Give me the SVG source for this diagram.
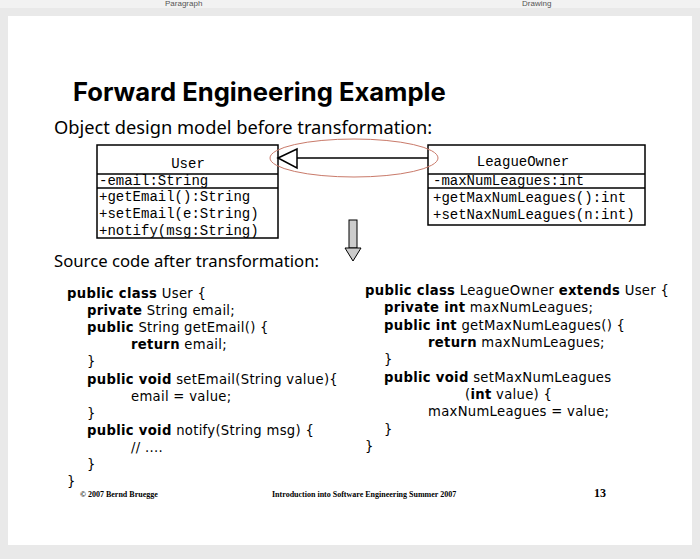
<svg xmlns="http://www.w3.org/2000/svg" width="700" height="559" viewBox="0 0 700 559">
<style>
.box{fill:#fff;stroke:#000;stroke-width:1.5}
.uml{font-family:"Liberation Mono",monospace;font-size:14px;fill:#000}
.code{font-family:"DejaVu Sans",sans-serif;font-size:13.2px;letter-spacing:0.3px;fill:#000}
.b{font-weight:bold}
.foot{font-family:"Liberation Serif",serif;font-size:8px;fill:#000;font-weight:bold}
</style>
<rect width="700" height="559" fill="#e9e9e9"/>
<rect x="0" y="0" width="700" height="8" fill="#f2f2f2"/>
<text x="165" y="6" font-family="Liberation Sans,sans-serif" font-size="8" fill="#555">Paragraph</text>
<text x="522" y="6" font-family="Liberation Sans,sans-serif" font-size="8" fill="#555">Drawing</text>
<rect x="8" y="16" width="684" height="529" fill="#fff"/>
<text x="73" y="101" font-family="Inter,'Noto Sans',sans-serif" font-size="25.6" font-weight="bold">Forward Engineering Example</text>
<text x="54" y="134" font-family="'Noto Sans','Open Sans',sans-serif" font-size="18.3">Object design model before transformation:</text>
<text x="54" y="267" font-family="'Noto Sans','Open Sans',sans-serif" font-size="16.7">Source code after transformation:</text>
<g id="User">
<rect class="box" x="97" y="145" width="181" height="93"/>
<line x1="97" y1="174" x2="278" y2="174" stroke="#000" stroke-width="1.5"/>
<line x1="97" y1="188" x2="278" y2="188" stroke="#000" stroke-width="1.5"/>
<text class="uml" x="188" y="168" text-anchor="middle">User</text>
<text class="uml" x="99" y="185">-email:String</text>
<text class="uml" x="99" y="201">+getEmail():String</text>
<text class="uml" x="99" y="218">+setEmail(e:String)</text>
<text class="uml" x="99" y="235">+notify(msg:String)</text>
</g>
<g id="LeagueOwner">
<rect class="box" x="428" y="145" width="217" height="80"/>
<line x1="428" y1="174" x2="645" y2="174" stroke="#000" stroke-width="1.5"/>
<line x1="428" y1="188" x2="645" y2="188" stroke="#000" stroke-width="1.5"/>
<text class="uml" x="523" y="166" text-anchor="middle">LeagueOwner</text>
<text class="uml" x="433" y="185">-maxNumLeagues:int</text>
<text class="uml" x="433" y="202">+getMaxNumLeagues():int</text>
<text class="uml" x="433" y="219">+setNaxNumLeagues(n:int)</text>
</g>
<g id="connectors">
<line x1="428" y1="158" x2="297" y2="158" stroke="#000" stroke-width="1.5"/>
<polygon points="278,158 297,149 297,168" fill="#fff" stroke="#000" stroke-width="1.5"/>
<ellipse cx="354" cy="158" rx="84" ry="19" fill="none" stroke="#c97a6a" stroke-width="1"/>
<rect x="349" y="220" width="8" height="28" fill="#ccc" stroke="#000" stroke-width="1"/>
<polygon points="345,248 361,248 353,261" fill="#ccc" stroke="#000" stroke-width="1"/>
</g>
<g id="code-left" class="code">
<text x="67" y="298"><tspan class="b">public class</tspan> User {</text>
<text x="87" y="315"><tspan class="b">private</tspan> String email;</text>
<text x="87" y="332"><tspan class="b">public</tspan> String getEmail() {</text>
<text x="131" y="349"><tspan class="b">return</tspan> email;</text>
<text x="87" y="366">}</text>
<text x="87" y="384"><tspan class="b">public void</tspan> setEmail(String value){</text>
<text x="131" y="401">email = value;</text>
<text x="87" y="418">}</text>
<text x="87" y="435"><tspan class="b">public void</tspan> notify(String msg) {</text>
<text x="131" y="452">// ....</text>
<text x="87" y="469">}</text>
<text x="67" y="486">}</text>
</g>
<g id="code-right" class="code">
<text x="365" y="295"><tspan class="b">public class</tspan> LeagueOwner <tspan class="b">extends</tspan> User {</text>
<text x="384" y="312"><tspan class="b">private int</tspan> maxNumLeagues;</text>
<text x="384" y="330"><tspan class="b">public int</tspan> getMaxNumLeagues() {</text>
<text x="428" y="347"><tspan class="b">return</tspan> maxNumLeagues;</text>
<text x="384" y="364">}</text>
<text x="384" y="382"><tspan class="b">public void</tspan> setMaxNumLeagues</text>
<text x="465" y="399">(<tspan class="b">int</tspan> value) {</text>
<text x="428" y="416">maxNumLeagues = value;</text>
<text x="384" y="434">}</text>
<text x="365" y="451">}</text>
</g>
<text class="foot" x="80" y="497">© 2007 Bernd Bruegge</text>
<text class="foot" x="272" y="497">Introduction into Software Engineering Summer 2007</text>
<text x="594" y="497" font-family="Liberation Serif,serif" font-size="12" font-weight="bold">13</text>
</svg>
